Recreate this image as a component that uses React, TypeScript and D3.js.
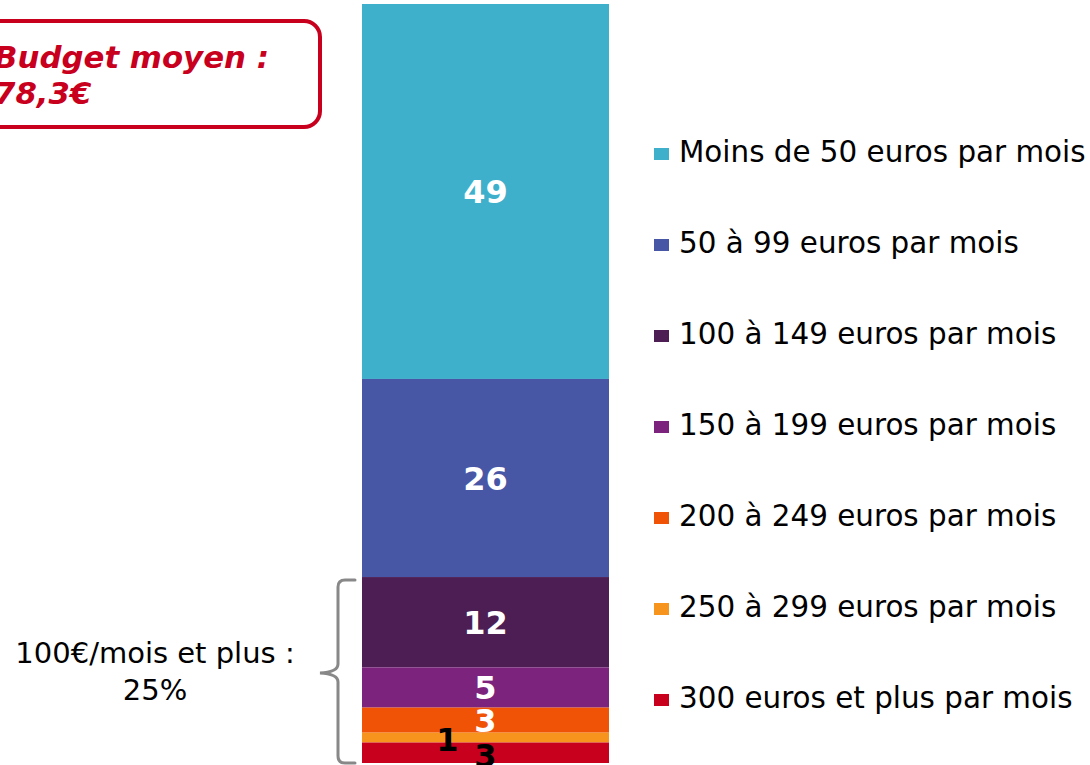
import React from 'react';
import * as d3 from 'd3';

const categories = [
  'Moins de 50 euros par mois',
  '50 à 99 euros par mois',
  '100 à 149 euros par mois',
  '150 à 199 euros par mois',
  '200 à 249 euros par mois',
  '250 à 299 euros par mois',
  '300 euros et plus par mois',
];
// shares in %, labels shown rounded
const values = [49.4, 26.1, 11.9, 5.3, 3.3, 1.3, 2.7];
const colors = ['#3EB0CC', '#4856A6', '#4C1E54', '#7B237D', '#F05206', '#F7941E', '#C8001E'];
const labelColors = ['#fff', '#fff', '#fff', '#fff', '#fff', '#000', '#000'];
const labelShiftX = [0, 0, 0, 0, 0, -38, 0];
const labelShiftY = [0, 0, 0, 0, 0, 2, 3];

const W = 1090, H = 765;
const FONT = '"DejaVu Sans", Verdana, sans-serif';
const RED = '#C8001E';

export default function App() {
  const total = d3.sum(values);
  const y = d3.scaleLinear().domain([0, total]).range([763, 4]);
  const x = d3.scaleBand().domain(['bar']).range([362, 609]).padding(0);
  const ends = d3.cumsum(values);
  const segs = values.map((v, i) => ({ v, i, y0: ends[i] - v, y1: ends[i] }));
  // first category on top
  const top = (s) => total - s.y1;
  const bottom = (s) => total - s.y0;

  const legendY = d3.scalePoint().domain(categories).range([162, 708]);

  const brace = d3.path();
  brace.moveTo(355, 580);
  brace.lineTo(345, 580);
  brace.quadraticCurveTo(338, 580, 338, 587);
  brace.lineTo(338, 664);
  brace.quadraticCurveTo(338, 672, 320, 673);
  brace.quadraticCurveTo(338, 674, 338, 682);
  brace.lineTo(338, 756);
  brace.quadraticCurveTo(338, 763, 345, 763);
  brace.lineTo(355, 763);

  return (
    <svg width={W} height={H} style={{ position: 'absolute', left: 0, top: 0, background: '#fff' }}>
      {segs.map((s) => (
        <rect key={s.i} x={x('bar')} width={x.bandwidth()} y={y(bottom(s))}
          height={y(top(s)) - y(bottom(s))} fill={colors[s.i]} />
      ))}
      {segs.map((s) => (
        <text key={'l' + s.i} x={x('bar') + x.bandwidth() / 2 + labelShiftX[s.i]}
          y={y((top(s) + bottom(s)) / 2) + labelShiftY[s.i]} dy="0.36em"
          textAnchor="middle" fontFamily={FONT} fontWeight="bold" fontSize={32}
          fill={labelColors[s.i]}>{Math.round(s.v)}</text>
      ))}
      {categories.map((c, i) => (
        <g key={c} transform={`translate(654,${legendY(c)})`}>
          <rect x={0} y={-14} width={15} height={12} fill={colors[i]} />
          <text x={25} y={0} fontFamily={FONT} fontSize={29.4} fill="#000">{c}</text>
        </g>
      ))}
      <rect x={-20} y={21} width={340} height={106} rx={16} fill="#fff" stroke={RED} strokeWidth={4} />
      <text fontFamily={FONT} fontWeight="bold" fontStyle="italic" fontSize={30.8} fill={RED}>
        <tspan x={-6} y={68}>Budget moyen :</tspan>
        <tspan x={-6} y={104}>78,3€</tspan>
      </text>
      <path d={brace.toString()} fill="none" stroke="#888" strokeWidth={3} strokeLinecap="round" />
      <text fontFamily={FONT} fontSize={29} fill="#000" textAnchor="middle">
        <tspan x={155} y={663}>100€/mois et plus :</tspan>
        <tspan x={155} y={700}>25%</tspan>
      </text>
    </svg>
  );
}
